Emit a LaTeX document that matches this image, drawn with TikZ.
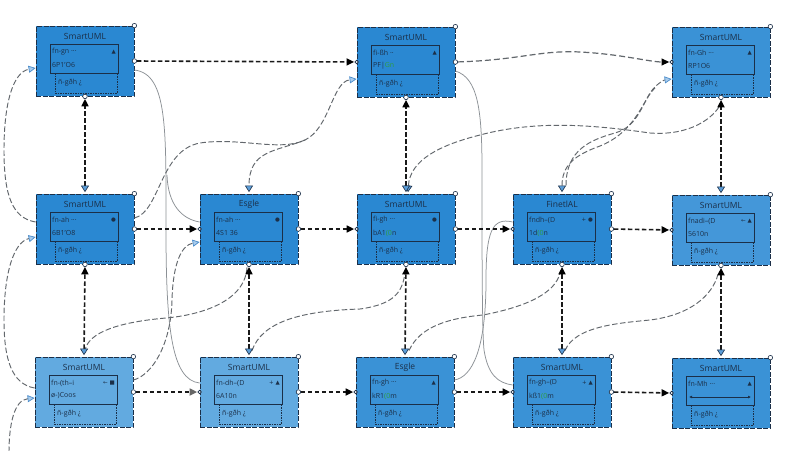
\documentclass[tikz,border=0pt]{standalone}
\usepackage{fontspec}
\setmainfont{Open Sans}
\newfontfamily\symf{DejaVu Sans}
\usetikzlibrary{arrows.meta,calc}
\definecolor{navy}{HTML}{1B2F48}
\definecolor{G}{HTML}{2E9E3E}
\definecolor{bdark}{HTML}{2A88D2}
\definecolor{bmid}{HTML}{3A92D6}
\definecolor{bmid2}{HTML}{4497D9}
\definecolor{blight}{HTML}{62AAE0}
\definecolor{tipfill}{HTML}{A9CCEC}
\definecolor{tipdraw}{HTML}{4A8CCB}
\definecolor{downfill}{HTML}{5C9DD8}
\definecolor{curvegray}{HTML}{62676C}
\definecolor{solidgray}{HTML}{8C9196}
\tikzset{
  umlbox/.style={draw=navy,line width=0.8pt,dash pattern=on 5pt off 1.5pt,minimum width=98pt,minimum height=70pt,inner sep=0pt},
  titletext/.style={font=\fontsize{8.5}{10}\selectfont,text=navy,inner sep=0pt},
  linetext/.style={font=\fontsize{7}{8}\selectfont,text=navy,anchor=west,inner sep=0pt},
  marktext/.style={font=\symf\fontsize{5.5}{6}\selectfont,text=navy,anchor=east,inner sep=0pt},
  fieldbox/.style={draw=navy,line width=0.7pt},
  lowbox/.style={draw=navy,line width=0.5pt,dash pattern=on 1.5pt off 1pt},
  port/.style={circle,draw=navy,fill=white,line width=0.6pt,minimum size=4.5pt,inner sep=0pt},
  otri/.tip={Triangle[length=7pt,width=7pt,fill=tipfill,color=tipdraw,line width=0.7pt]},
  btri/.tip={Triangle[length=6.5pt,width=8pt,fill=downfill,color=navy,line width=0.6pt]},
  ktri/.tip={Triangle[length=7.5pt,width=7pt,fill=black,color=black]},
  gtri/.tip={Triangle[length=7.5pt,width=7pt,fill=gray!80!black,color=gray!80!black]},
  hline/.style={draw=black!90,line width=1.6pt,dash pattern=on 4.5pt off 2.5pt,shorten <=2.5pt,shorten >=2.5pt,-{ktri}},
  vline/.style={draw=black!90,line width=1.6pt,dash pattern=on 4.5pt off 2.5pt,shorten <=1.5pt,shorten >=2.5pt,{btri}-{ktri}},
  gcurve/.style={draw=curvegray,line width=0.95pt,dash pattern=on 5.5pt off 2.5pt},
  scurve/.style={draw=solidgray,line width=0.75pt},
}
\newcommand{\umlbox}[9]{%
  \node[umlbox,fill=#4] (#1) at (#2,#3) {};
  \node[titletext] (#1-t) at ({#2},{#3-25}) {#5};
  \draw[fieldbox] ({#2-35},{#3-17}) rectangle ({#2+33},{#3+12});
  \draw[lowbox] ({#2-30},{#3+12}) rectangle ({#2+32},{#3+32});
  \node[linetext] (#1-a) at ({#2-33},{#3-9}) {#6};
  \node[marktext] (#1-m) at ({#2+31},{#3-9}) {#7};
  \node[linetext] (#1-b) at ({#2-33},{#3+4}) {#8};
  \node[linetext] (#1-c) at ({#2-27},{#3+22}) {#9};
}
\begin{document}
\begin{tikzpicture}[x=1pt,y=-1pt]
\fill[white] (0,0) rectangle (800,450);
\useasboundingbox (0,0) rectangle (800,450);

% boxes
\umlbox{b00}{85}{61}{bdark}{SmartUML}{fn-gn ···}{▲}{6P1'O6}{ñ-gðh ¿}
\umlbox{b02}{406}{62}{bdark}{SmartUML}{fi-ßh ··}{▲}{PF|\textcolor{G}{Gn}}{ñ-gðh ¿}
\umlbox{b04}{721}{62}{bmid}{SmartUML}{fn-Gh ···}{▲}{RP1O6}{ñ-gðh ¿}
\umlbox{b10}{85}{229}{bdark}{SmartUML}{fn-ah ···}{●}{6B1'O8}{ñ-gðh ¿}
\umlbox{b11}{249}{229}{bdark}{Esgle}{fn-ah ···}{●}{4S1 36}{ñ-gðh ¿}
\umlbox{b12}{406}{229}{bdark}{SmartUML}{fi-gh ···}{●}{bA1\textcolor{G}{(0}n}{ñ-gðh ¿}
\umlbox{b13}{562}{229}{bdark}{FinetlAL}{fndh–(D}{+ ●}{1d\textcolor{G}{(0}n}{ñ-gðh ¿}
\umlbox{b14}{721}{230}{bmid2}{SmartUML}{fnadi--(D}{← ▲}{5610n}{ñ-gðh ¿}
\umlbox{b20}{84}{392}{blight}{SmartUML}{fn-(th--i}{← ■}{ø-)Coos}{ñ-gðh ¿}
\umlbox{b21}{249}{392}{blight}{SmartUML}{fn-dh--(D}{+ ▲}{6A10n}{ñ-gðh ¿}
\umlbox{b22}{405}{392}{bmid}{Esgle}{fn-gh ···}{▲}{kR1\textcolor{G}{(0}m}{ñ-gðh ¿}
\umlbox{b23}{562}{392}{bmid}{SmartUML}{fn-gh--(D}{+ ▲}{kß1\textcolor{G}{(0}m}{ñ-gðh ¿}
\umlbox{b24}{721}{393}{bmid}{SmartUML}{fn-Mh ···}{▲}{}{ñ-gðh ¿}
\coordinate (b24-l) at (689,397);
\coordinate (b24-r) at (751,397);
\draw[navy,line width=0.8pt,{Latex[length=3pt,width=3pt]}-{Latex[length=3pt,width=3pt]}] (b24-l) -- (b24-r);

% left edge curves
\coordinate (lb) at (9,452);
\draw[gcurve,-{otri}] ($(b10.west)+(0,-7)$) .. controls (12,218) and (4,195) .. (4,150) .. controls (4,100) and (14,72) .. ($(b00.west)+(0,7)$);
\draw[gcurve,-{otri}] ($(b20.west)+(0,-4)$) .. controls (12,384) and (4,360) .. (4,320) .. controls (4,272) and (14,242) .. ($(b10.west)+(0,8)$);
\draw[gcurve,-{otri}] (lb) .. controls (9,425) and (14,400) .. ($(b20.west)+(0,6)$);

% solid curves, left middle
\draw[scurve] ($(b00.east)+(0,9)$) .. controls (168,74) and (166,130) .. (166,230) .. controls (166,330) and (172,380) .. ($(b21.west)+(0,-9)$);
\draw[scurve] ($(b11.west)+(0,-7)$) .. controls (182,219) and (168,205) .. (167,175);
\draw[gcurve,-{otri}] ($(b20.east)+(0,-12)$) .. controls (152,375) and (171,345) .. (172,300) .. controls (173,262) and (182,245) .. ($(b11.west)+(0,13)$);

% dashed curves to (0,2)
\draw[gcurve,-{otri}] ($(b10.east)+(0,-11)$) .. controls (160,212) and (160,150) .. (200,143) .. controls (240,137) and (280,152) .. (305,140) .. controls (330,128) and (332,82) .. ($(b02.west)+(0,17)$);
\draw[gcurve,-{btri}] (305,140) .. controls (275,152) and (249,150) .. ($(b11.north)+(0,-1.5)$);

% lower dashed curves (2,c) -> (1,c+1)
\draw[gcurve] ($(b11.south)+(-2,3)$) .. controls (245,302) and (200,315) .. (166,318) .. controls (120,322) and (88,332) .. ($(b20.north)+(1,-6)$);
\draw[gcurve] ($(b21.north)+(3,-6)$) .. controls (262,322) and (300,311) .. (360,309) .. controls (395,304) and (402,292) .. ($(b12.south)+(-1,9)$);
\draw[gcurve] ($(b22.north)+(4,-6)$) .. controls (420,326) and (450,318) .. (483,315) .. controls (530,306) and (555,292) .. ($(b13.south)+(-2,9)$);
\draw[gcurve] ($(b23.north)+(3,-6)$) .. controls (575,326) and (620,323) .. (650,320) .. controls (690,315) and (712,296) .. ($(b14.south)+(-3,9)$);

% solid curves, right middle
\draw[scurve] ($(b02.east)+(0,9)$) .. controls (478,78) and (482,110) .. (482,170) .. controls (482,250) and (482,330) .. (484,350) .. controls (488,375) and (498,383) .. ($(b23.west)+(0,-7)$);
\draw[scurve] ($(b13.west)+(0,-7)$) .. controls (492,217) and (486,232) .. (486,280) .. controls (486,350) and (472,377) .. ($(b22.east)+(0,-12)$);

% upper right dashed curves
\draw[gcurve,{btri}-] ($(b12.north)+(2,-1.5)$) .. controls (410,160) and (440,145) .. (480,135) .. controls (540,119) and (600,126) .. (650,133) .. controls (690,136) and (714,118) .. ($(b04.south)+(0,6)$);
\draw[gcurve,{btri}-{otri}] ($(b13.north)+(0,-1.5)$) .. controls (562,165) and (575,155) .. (600,146) .. controls (630,134) and (640,110) .. (650,93) .. controls (656,84) and (664,80) .. ($(b04.west)+(0,17)$);
\draw[gcurve] ($(b13.north)+(4,-8)$) .. controls (566,150) and (590,140) .. (615,133) .. controls (640,126) and (642,100) .. (655,88);

% horizontal connectors
\draw[hline] (b00.east) -- (b02.west);
\draw[gcurve,line width=1.2pt,dash pattern=on 6pt off 3pt,shorten <=2.5pt,shorten >=2.5pt,-{ktri}] (b02.east) .. controls (520,60) and (540,50) .. (580,52) .. controls (620,54) and (650,62) .. (b04.west);
\draw[hline] (b10.east) -- (b11.west);
\draw[hline] (b11.east) -- (b12.west);
\draw[hline] (b12.east) -- (b13.west);
\draw[hline] (b13.east) -- (b14.west);
\draw[hline,-{gtri}] (b20.east) -- (b21.west);
\draw[hline] (b21.east) -- (b22.west);
\draw[hline] (b22.east) -- (b23.west);
\draw[hline] (b23.east) -- (b24.west);

% vertical connectors
\draw[vline] (b10.north) -- (b00.south);
\draw[vline] (b20.north) -- (b10.south);
\draw[vline] (b21.north) -- (b11.south);
\draw[vline] (b12.north) -- (b02.south);
\draw[vline] (b22.north) -- (b12.south);
\draw[vline] (b23.north) -- (b13.south);
\draw[vline] (b14.north) -- (b04.south);
\draw[vline] (b24.north) -- (b14.south);

% ports
\foreach \n in {b00,b02,b04,b10,b11,b12,b13,b14,b20,b21,b22,b23,b24}
  \node[port] (pne-\n) at (\n.north east) {};
\foreach \n in {b00,b02,b10,b11,b12,b13,b20,b21,b22,b23}
  \node[port] (pe-\n) at (\n.east) {};
\foreach \n in {b02,b04,b11,b12,b13,b14,b21,b22,b23,b24}
  \node[port,minimum size=3.5pt] (pw-\n) at (\n.west) {};
\foreach \n in {b00,b02,b04,b10,b11,b12,b13,b14}
  \node[port] (ps-\n) at (\n.south) {};
\end{tikzpicture}
\end{document}
